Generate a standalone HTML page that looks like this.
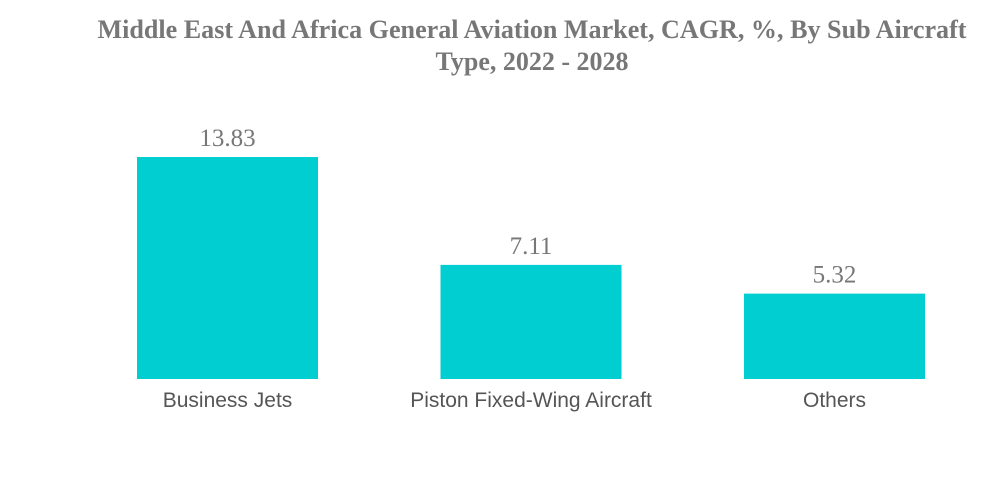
<!DOCTYPE html>
<html><head><meta charset="utf-8"><style>
body{margin:0;background:#fff;width:1000px;height:483px;overflow:hidden}
</style></head><body>
<svg width="1000" height="483" xmlns="http://www.w3.org/2000/svg">
<text x="532" y="38" text-anchor="middle" font-family="Liberation Serif, serif" font-weight="bold" font-size="26" textLength="869" lengthAdjust="spacingAndGlyphs" fill="#777">Middle East And Africa General Aviation Market, CAGR, %, By Sub Aircraft</text>
<text x="532" y="70" text-anchor="middle" font-family="Liberation Serif, serif" font-weight="bold" font-size="26" fill="#777">Type, 2022 - 2028</text>
<g id="bars"></g>
</svg>
<script>
const categories=["Business Jets","Piston Fixed-Wing Aircraft","Others"];
const values=[13.83,7.11,5.32];
const labels=["13.83","7.11","5.32"];
const baseY=379, pxPerUnit=16.05, x0=137, step=303.5, bw=181;
const y=v=>baseY-v*pxPerUnit;
const g=document.getElementById('bars');
const ns="http://www.w3.org/2000/svg";
categories.forEach((c,i)=>{
  const x=x0+i*step;
  const r=document.createElementNS(ns,'rect');
  
  
  r.setAttribute('x',x);r.setAttribute('y',y(values[i]));r.setAttribute('width',bw);r.setAttribute('height',baseY-y(values[i]));r.setAttribute('fill','#00CED1');
  g.appendChild(r);
  const t=document.createElementNS(ns,'text');
  
  
  t.setAttribute('x',x+bw/2);t.setAttribute('y',y(values[i])-11);t.setAttribute('text-anchor','middle');
  t.setAttribute('font-family','Liberation Serif, serif');t.setAttribute('font-size','25');t.setAttribute('fill','#777');
  t.textContent=labels[i];g.appendChild(t);
  const l=document.createElementNS(ns,'text');
  
  
  l.setAttribute('x',x+bw/2);l.setAttribute('y',407);l.setAttribute('text-anchor','middle');
  l.setAttribute('font-family','Liberation Sans, sans-serif');l.setAttribute('font-size','21');l.setAttribute('fill','#555');
  l.textContent=c;g.appendChild(l);
});
</script>
</body></html>
